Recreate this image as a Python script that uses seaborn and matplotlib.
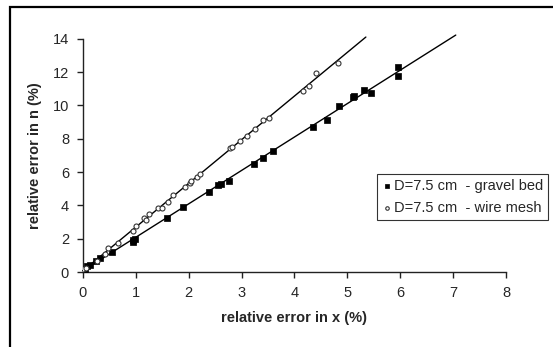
import numpy as np
import pandas as pd
import seaborn as sns
import matplotlib.pyplot as plt
from matplotlib.patches import Rectangle

sns.set_style("ticks")
plt.rcParams['font.family'] = ['Liberation Sans', 'DejaVu Sans']

# ----- data -----
gravel_x = [0.03, 0.08, 0.13, 0.25, 0.32, 0.55, 0.95, 0.98, 0.95, 1.58, 1.89,
            2.38, 2.55, 2.61, 2.76, 3.23, 3.40, 3.59, 4.35, 4.61, 4.84,
            5.10, 5.12, 5.31, 5.44, 5.95, 5.95]
gravel_y = [0.2, 0.36, 0.42, 0.66, 0.84, 1.2, 1.92, 1.98, 1.8, 3.24, 3.9,
            4.8, 5.2, 5.29, 5.47, 6.49, 6.85, 7.27, 8.71, 9.13, 9.97,
            10.5, 10.55, 10.93, 10.75, 12.3, 11.77]
mesh_x = [0.0, 0.06, 0.26, 0.42, 0.47, 0.67, 0.95, 1.0, 1.15, 1.2, 1.25,
          1.41, 1.49, 1.6, 1.70, 1.93, 2.02, 2.05, 2.15, 2.21, 2.78, 2.82,
          2.97, 3.10, 3.25, 3.40, 3.52, 4.16, 4.27, 4.40, 4.82]
mesh_y = [0.18, 0.24, 0.66, 1.08, 1.44, 1.74, 2.46, 2.76, 3.24, 3.12, 3.48,
          3.84, 3.84, 4.2, 4.6, 5.1, 5.35, 5.45, 5.7, 5.9, 7.45, 7.5,
          7.87, 8.17, 8.6, 9.13, 9.25, 10.87, 11.17, 11.95, 12.55]
gravel_fit_x = [0, 7.05]
mesh_fit_x = [0, 5.35]

labels = ["D=7.5 cm  - gravel bed", "D=7.5 cm  - wire mesh"]

df_g = pd.DataFrame({"x": gravel_x, "y": gravel_y})
df_m = pd.DataFrame({"x": mesh_x, "y": mesh_y})

fig = plt.figure(figsize=(5.53, 3.47), dpi=100)
ax = fig.add_axes([0.150, 0.216, 0.765, 0.672])

# outer frame
fig.patches.append(Rectangle((0.018, -0.1), 1.2, 1.08, transform=fig.transFigure,
                             fill=False, edgecolor='black', linewidth=1.6))

# fitted lines
for d, fx in [(df_g, gravel_fit_x), (df_m, mesh_fit_x)]:
    k, b = np.polyfit(d["x"], d["y"], 1)
    fx = np.array(fx)
    sns.lineplot(x=fx, y=k * fx + b, ax=ax, color='black', linewidth=1.0, clip_on=False)

sns.scatterplot(data=df_g, x="x", y="y", ax=ax, marker='s', s=14, color='black',
                edgecolor='black', linewidth=0.5, label=labels[0], zorder=3)
sns.scatterplot(data=df_m, x="x", y="y", ax=ax, marker='o', s=13, facecolor='white',
                edgecolor='#333333', linewidth=0.8, label=labels[1], zorder=3)

ax.set_xlim(0, 8)
ax.set_ylim(0, 14)
ax.set_xticks(range(0, 9))
ax.set_yticks(range(0, 15, 2))
sns.despine(ax=ax)
for s in ['left', 'bottom']:
    ax.spines[s].set_color('#222222')
    ax.spines[s].set_linewidth(1.0)
ax.tick_params(direction='out', length=4, width=1, color='#222222',
               labelsize=10.5, pad=6)

ax.set_xlabel("relative error in x (%)", fontsize=10.5, fontweight='bold', labelpad=8)
ax.set_ylabel("relative error in n (%)", fontsize=10.5, fontweight='bold', labelpad=8)

leg = ax.legend(loc='upper right', bbox_to_anchor=(548 / 553, 1 - 174 / 347),
                bbox_transform=fig.transFigure, borderaxespad=0, fontsize=10.5,
                frameon=True, fancybox=False, edgecolor='black', handletextpad=0.1,
                handlelength=0.7, borderpad=0.35, labelspacing=0.55, markerscale=0.7)
leg.get_frame().set_linewidth(0.8)

plt.savefig("out.png", dpi=100)
